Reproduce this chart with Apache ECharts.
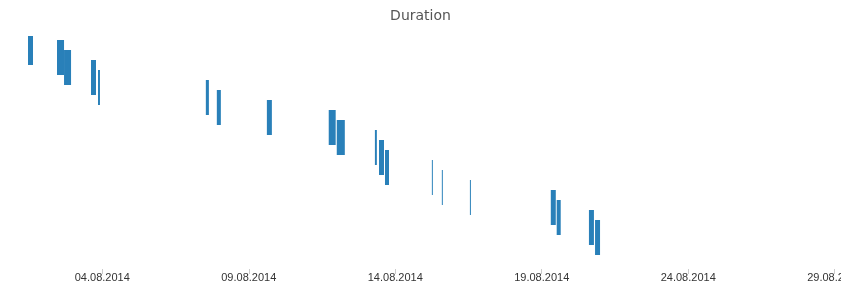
<!DOCTYPE html>
<html>
<head>
<meta charset="utf-8">
<script src="https://cdn.jsdelivr.net/npm/echarts@6/dist/echarts.min.js"></script>
<style>
  html, body { margin: 0; padding: 0; background: #fff; }
  #chart { width: 841px; height: 286px; }
</style>
</head>
<body>
<div id="chart"></div>
<script>
// ---- data ----
const titleText = 'Duration';
const baseDate = '2014-07-30'; // axis origin (day 0), a tick position
const starts = [
  '2014-08-01 11:10', '2014-08-02 10:55', '2014-08-02 16:40', '2014-08-03 14:45',
  '2014-08-03 20:30', '2014-08-07 12:50', '2014-08-07 21:50', '2014-08-09 14:50',
  '2014-08-11 17:30', '2014-08-12 00:05', '2014-08-13 07:20', '2014-08-13 10:40',
  '2014-08-13 15:35', '2014-08-15 06:00', '2014-08-15 14:10', '2014-08-16 13:10',
  '2014-08-19 07:25', '2014-08-19 12:15', '2014-08-20 14:40', '2014-08-20 19:40'
];
const durationsHours = [
  4.1, 5.75, 5.75, 4.1,
  1.6, 2.5, 3.3, 4.1,
  5.7, 6.6, 1.6, 4.1,
  3.3, 0.8, 0.8, 0.8,
  4.1, 3.3, 4.1, 4.1
];
const tickStepDays = 5;
const axisMaxDays = 30; // 29.08.2014

// ---- helpers ----
function toUTC(s) {
  const m = s.match(/(\d+)-(\d+)-(\d+)(?:\s+(\d+):(\d+))?/);
  return Date.UTC(+m[1], +m[2] - 1, +m[3], +(m[4] || 0), +(m[5] || 0));
}
const DAY = 86400000;
const base = toUTC(baseDate);
function pad(n) { return (n < 10 ? '0' : '') + n; }
function fmtDay(v) {
  const d = new Date(base + v * DAY);
  return pad(d.getUTCDate()) + '.' + pad(d.getUTCMonth() + 1) + '.' + d.getUTCFullYear();
}

const seriesData = starts.map(function (s, i) {
  const st = (toUTC(s) - base) / DAY;
  const en = st + durationsHours[i] / 24;
  return [st, en, i];
});

const BAR_H = 35;
const chart = echarts.init(document.getElementById('chart'), null, { renderer: 'canvas' });
chart.setOption({
  animation: false,
  backgroundColor: '#ffffff',
  title: {
    text: titleText,
    left: 'center',
    top: 4,
    textStyle: { fontFamily: 'DejaVu Sans', fontSize: 14, fontWeight: 'normal', color: '#555555' }
  },
  grid: {
    left: -44.2,
    right: 6.3,
    top: 36,
    bottom: 17,
    containLabel: false,
    outerBoundsMode: 'none'
  },
  xAxis: {
    type: 'value',
    position: 'bottom',
    min: 0,
    max: axisMaxDays,
    interval: tickStepDays,
    axisLine: { show: false, onZero: false },
    axisTick: { show: true, length: 5, lineStyle: { color: '#cccccc' } },
    splitLine: { show: false },
    axisLabel: {
      formatter: fmtDay,
      margin: 3,
      fontFamily: 'Liberation Sans',
      fontSize: 11,
      color: '#333333',
      showMinLabel: true,
      showMaxLabel: true
    }
  },
  yAxis: {
    type: 'value',
    inverse: true,
    min: -1.15,
    max: 22.15,
    show: false
  },
  series: [{
    type: 'custom',
    clip: true,
    encode: { x: [0, 1], y: 2 },
    renderItem: function (params, api) {
      const p0 = api.coord([api.value(0), api.value(2)]);
      const p1 = api.coord([api.value(1), api.value(2)]);
      const rect = echarts.graphic.clipRectByRect({
        x: p0[0], y: p0[1] - BAR_H / 2, width: p1[0] - p0[0], height: BAR_H
      }, {
        x: params.coordSys.x, y: params.coordSys.y,
        width: params.coordSys.width, height: params.coordSys.height
      });
      return rect && { type: 'rect', shape: rect, style: { fill: '#2980b9' } };
    },
    data: seriesData
  }]
});
</script>
</body>
</html>
